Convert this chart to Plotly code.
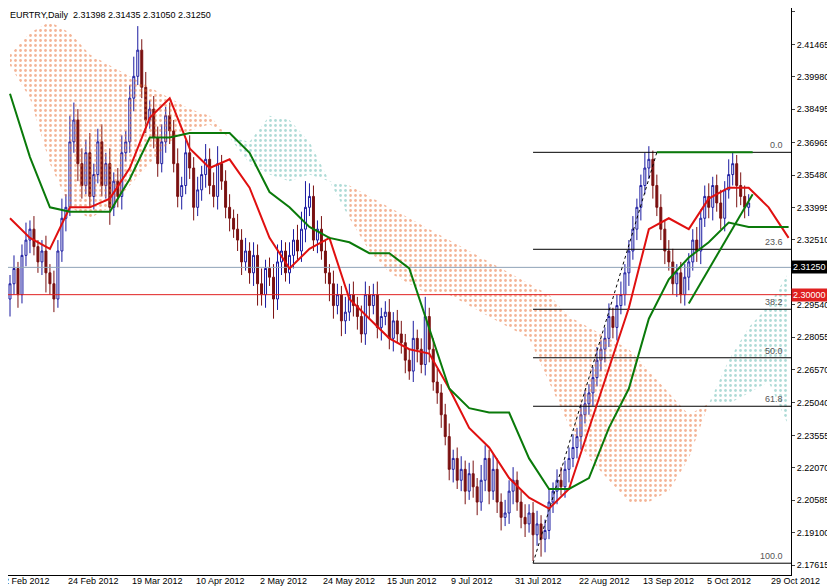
import plotly.graph_objects as go

# 日线收盘价 (2 Feb 2012 起, 196 根)
CLOSES = [
    2.305, 2.312, 2.300, 2.318, 2.325, 2.330, 2.322, 2.315, 2.320, 2.310,
    2.305, 2.298, 2.320, 2.335, 2.340, 2.370, 2.380, 2.360, 2.350, 2.365,
    2.345, 2.355, 2.370, 2.350, 2.360, 2.340, 2.352, 2.345, 2.365, 2.370,
    2.390, 2.400, 2.412, 2.395, 2.380, 2.385, 2.372, 2.360, 2.370, 2.382,
    2.375, 2.360, 2.345, 2.350, 2.365, 2.358, 2.340, 2.348, 2.355, 2.362,
    2.350, 2.345, 2.360, 2.352, 2.340, 2.335, 2.330, 2.325, 2.315, 2.320,
    2.310, 2.318, 2.305, 2.300, 2.312, 2.308, 2.298, 2.315, 2.320, 2.310,
    2.318, 2.325, 2.320, 2.330, 2.340, 2.345, 2.325, 2.330, 2.320, 2.310,
    2.305, 2.295, 2.300, 2.288, 2.292, 2.300, 2.295, 2.290, 2.282, 2.300,
    2.295, 2.300, 2.285, 2.290, 2.292, 2.280, 2.288, 2.282, 2.278, 2.270,
    2.265, 2.280, 2.275, 2.268, 2.290, 2.275, 2.260, 2.255, 2.245, 2.235,
    2.220, 2.225, 2.215, 2.220, 2.210, 2.218, 2.212, 2.205, 2.215, 2.225,
    2.210, 2.220, 2.205, 2.198, 2.200, 2.210, 2.215, 2.205, 2.198, 2.195,
    2.200, 2.190, 2.195, 2.188, 2.192, 2.205, 2.210, 2.215, 2.212, 2.220,
    2.225, 2.230, 2.235, 2.245, 2.250, 2.255, 2.262, 2.270, 2.275, 2.280,
    2.290, 2.285, 2.295, 2.300, 2.310, 2.320, 2.330, 2.340, 2.350, 2.358,
    2.362, 2.350, 2.340, 2.330, 2.320, 2.315, 2.305, 2.310, 2.300, 2.308,
    2.315, 2.325, 2.320, 2.335, 2.345, 2.340, 2.350, 2.342, 2.335, 2.348,
    2.355, 2.360, 2.350, 2.345, 2.340, 2.342, 2.335, 2.332, 2.328, 2.325,
    2.318, 2.322, 2.330, 2.320, 2.315, 2.3125,
]
FIRST_OPEN = 2.298
# 上下影线长度 (单位 0.001)
HI_EXT = [
    4, 6, 3, 5, 8, 4, 6, 3, 5, 7, 4, 6, 5, 9, 6, 12, 8, 5, 7, 6,
    9, 5, 6, 8, 5, 7, 4, 6, 8, 5, 6, 9, 11, 5, 7, 4, 6, 5, 8, 4,
    6, 5, 7, 4, 6, 8, 5, 6, 4, 7, 5, 6, 8, 4, 5, 6, 4, 7, 5, 6,
    4, 6, 5, 7, 4, 5, 6, 8, 5, 4, 6, 5, 7, 8, 12, 6, 5, 4, 6, 5,
    4, 6, 5, 4, 7, 5, 6, 4, 5, 6, 4, 5, 6, 4, 5, 6, 4, 5, 6, 4,
    5, 8, 4, 5, 9, 4, 5, 6, 4, 5, 6, 4, 5, 6, 4, 5, 6, 4, 7, 6,
    4, 7, 5, 4, 6, 5, 6, 4, 5, 6, 4, 5, 6, 4, 5, 6, 4, 5, 6, 4,
    5, 6, 4, 5, 6, 4, 5, 6, 4, 5, 6, 4, 5, 6, 4, 5, 6, 4, 5, 7,
    6, 4, 5, 6, 4, 5, 6, 4, 5, 6, 4, 5, 6, 4, 5, 6, 4, 5, 6, 4,
    7, 5, 4, 6, 5, 4,
]
LO_EXT = [
    8, 5, 6, 4, 5, 6, 4, 5, 6, 9, 5, 6, 4, 5, 6, 4, 5, 8, 6, 4,
    5, 6, 4, 5, 6, 8, 4, 5, 6, 4, 5, 6, 4, 5, 6, 4, 5, 6, 4, 5,
    6, 4, 5, 6, 4, 5, 6, 4, 5, 6, 4, 5, 6, 4, 5, 6, 4, 5, 6, 4,
    5, 6, 10, 5, 6, 4, 9, 5, 6, 4, 5, 6, 4, 5, 6, 4, 5, 6, 4, 5,
    8, 6, 4, 7, 6, 4, 5, 6, 4, 5, 6, 4, 5, 6, 4, 5, 6, 4, 5, 6,
    4, 5, 6, 4, 5, 6, 4, 5, 6, 4, 5, 6, 4, 5, 6, 4, 5, 6, 4, 5,
    6, 4, 5, 6, 4, 5, 6, 4, 5, 6, 4, 12, 5, 8, 6, 4, 5, 6, 4, 5,
    6, 4, 5, 6, 4, 5, 6, 4, 5, 6, 4, 5, 6, 4, 5, 6, 4, 5, 6, 4,
    5, 6, 4, 5, 6, 4, 5, 6, 4, 5, 6, 4, 5, 6, 4, 5, 6, 4, 5, 6,
    4, 5, 10, 4, 5, 4,
]

# 指标线 (每 5 根取一点: 第 0,5,...,195 根)
LINE_X = list(range(0, 196, 5))
TENKAN = [2.335, 2.326, 2.321, 2.340, 2.340, 2.344, 2.358, 2.381, 2.390, 2.367,
          2.358, 2.362, 2.349, 2.326, 2.312, 2.321, 2.326, 2.298, 2.289, 2.280,
          2.275, 2.273, 2.257, 2.239, 2.230, 2.216, 2.207, 2.202, 2.211, 2.239,
          2.266, 2.294, 2.330, 2.335, 2.330, 2.344, 2.349, 2.349, 2.340, 2.326]
KIJUN = [2.392, 2.363, 2.340, 2.338, 2.338, 2.338, 2.353, 2.372, 2.372, 2.374,
         2.374, 2.374, 2.365, 2.347, 2.340, 2.331, 2.326, 2.324, 2.319, 2.319,
         2.312, 2.285, 2.257, 2.248, 2.246, 2.246, 2.225, 2.211, 2.211, 2.216,
         2.239, 2.257, 2.289, 2.307, 2.317, 2.324, 2.333, 2.331, 2.331, 2.331]
SPAN_A = [2.405, 2.390, 2.360, 2.340, 2.335, 2.340, 2.350, 2.360, 2.370, 2.375,
          2.378, 2.372, 2.370, 2.382, 2.380, 2.370, 2.352, 2.335, 2.320, 2.310,
          2.305, 2.300, 2.300, 2.295, 2.290, 2.285, 2.280, 2.260, 2.240, 2.225,
          2.215, 2.205, 2.205, 2.210, 2.225, 2.250, 2.270, 2.285, 2.295, 2.310]
SPAN_B = [2.410, 2.420, 2.425, 2.420, 2.410, 2.405, 2.400, 2.395, 2.390, 2.385,
          2.382, 2.372, 2.360, 2.355, 2.352, 2.355, 2.352, 2.350, 2.345, 2.340,
          2.335, 2.330, 2.325, 2.320, 2.315, 2.310, 2.305, 2.300, 2.290, 2.285,
          2.280, 2.275, 2.265, 2.255, 2.245, 2.250, 2.250, 2.255, 2.260, 2.240]

FIB_HIGH, FIB_LOW = 2.3652, 2.1770
FIB_LEVELS = [0.0, 23.6, 38.2, 50.0, 61.8, 100.0]
FIB_START, FIB_END = 131, 162   # 斐波那契起点/高点所在K线

Y_TICKS = [2.42950, 2.41465, 2.39980, 2.38495, 2.36965, 2.35480, 2.33995, 2.32510,
           2.29540, 2.28055, 2.26570, 2.25040, 2.23555, 2.22070, 2.20585, 2.19100, 2.17615]
DATE_LABELS = ["2 Feb 2012", "24 Feb 2012", "19 Mar 2012", "10 Apr 2012", "2 May 2012",
               "24 May 2012", "15 Jun 2012", "9 Jul 2012", "31 Jul 2012", "22 Aug 2012",
               "13 Sep 2012", "5 Oct 2012", "29 Oct 2012"]
DATE_BARS = [0, 16, 32, 48, 64, 80, 96, 112, 128, 144, 160, 176, 192]

LAST_PRICE = 2.31250
LEVEL_RED = 2.30000
TREND_X = [170, 186]
TREND_Y = [2.296, 2.346]

FONT = "Liberation Sans"

xs = list(range(len(CLOSES)))
opens = [FIRST_OPEN] + CLOSES[:-1]
highs = [max(o, c) + h / 1000 for o, c, h in zip(opens, CLOSES, HI_EXT)]
lows = [min(o, c) - l / 1000 for o, c, l in zip(opens, CLOSES, LO_EXT)]

fig = go.Figure()

# 云层: 按上下关系分段着色
segs = []
cur = [0]
for i in range(1, len(LINE_X)):
    if (SPAN_A[i] >= SPAN_B[i]) != (SPAN_A[cur[0]] >= SPAN_B[cur[0]]):
        cur.append(i)
        segs.append(cur)
        cur = [i]
    else:
        cur.append(i)
segs.append(cur)
for seg in segs:
    mid = seg[len(seg) // 2]
    bull = SPAN_A[mid] >= SPAN_B[mid]
    col = "#5fb8ad" if bull else "#e8692e"
    sx = [LINE_X[i] for i in seg]
    fig.add_trace(go.Scatter(x=sx, y=[SPAN_B[i] for i in seg], mode="lines",
                             line=dict(width=0), hoverinfo="skip", showlegend=False))
    fig.add_trace(go.Scatter(x=sx, y=[SPAN_A[i] for i in seg], mode="lines",
                             line=dict(width=0), fill="tonexty", fillcolor="rgba(0,0,0,0)",
                             fillpattern=dict(shape=".", fgcolor=col, bgcolor="rgba(0,0,0,0)",
                                              size=5, solidity=0.25),
                             hoverinfo="skip", showlegend=False))

# 水平线
for lvl, col in [(LAST_PRICE, "#8fa3b8"), (LEVEL_RED, "#e02020")]:
    fig.add_trace(go.Scatter(x=[-1, 200], y=[lvl, lvl], mode="lines",
                             line=dict(color=col, width=1), hoverinfo="skip", showlegend=False))

# 斐波那契
for lv in FIB_LEVELS:
    p = FIB_HIGH - (FIB_HIGH - FIB_LOW) * lv / 100
    fig.add_trace(go.Scatter(x=[FIB_START, 200], y=[p, p], mode="lines",
                             line=dict(color="black", width=1), hoverinfo="skip", showlegend=False))
    fig.add_annotation(x=194, y=p, text=f"{lv:.1f}", showarrow=False, xanchor="right",
                       yanchor="bottom", font=dict(size=9, color="#555555"))
fig.add_trace(go.Scatter(x=[FIB_START, FIB_END], y=[FIB_LOW, FIB_HIGH], mode="lines",
                         line=dict(color="black", width=1, dash="dot"), hoverinfo="skip",
                         showlegend=False))

# K线
fig.add_trace(go.Candlestick(
    x=xs, open=opens, high=highs, low=lows, close=CLOSES,
    increasing=dict(line=dict(color="#1a1aa0", width=1), fillcolor="white"),
    decreasing=dict(line=dict(color="#7a1010", width=1), fillcolor="#7a1010"),
    whiskerwidth=0, showlegend=False))

fig.add_trace(go.Scatter(x=LINE_X, y=TENKAN, mode="lines", line=dict(color="#e01010", width=2),
                         showlegend=False))
fig.add_trace(go.Scatter(x=LINE_X, y=KIJUN, mode="lines", line=dict(color="#0a7a0a", width=2),
                         showlegend=False))
# 趋势线与顶部水平线
fig.add_trace(go.Scatter(x=TREND_X, y=TREND_Y, mode="lines",
                         line=dict(color="#0a7a0a", width=2), showlegend=False))
fig.add_trace(go.Scatter(x=[FIB_END, 186], y=[FIB_HIGH, FIB_HIGH], mode="lines",
                         line=dict(color="#0a7a0a", width=2), showlegend=False))

for i, lab in zip(DATE_BARS, DATE_LABELS):
    fig.add_annotation(x=max(i - 2, -0.4), y=0, xref="x", yref="paper", text=lab,
                       showarrow=False, xanchor="left", yanchor="top", yshift=1,
                       xshift=-6 if i == 0 else 0,
                       font=dict(size=9, color="black", family=FONT))

for lvl, bg in [(LAST_PRICE, "black"), (LEVEL_RED, "#e02020")]:
    fig.add_annotation(x=1, xref="paper", y=lvl, text=f"{lvl:.5f}", showarrow=False,
                       xanchor="left", bgcolor=bg, font=dict(size=9, color="white", family=FONT),
                       borderpad=1)

fig.add_annotation(x=0, y=1, xref="paper", yref="paper", xanchor="left", yanchor="top",
                   text="EURTRY,Daily  2.31398 2.31435 2.31050 2.31250", showarrow=False,
                   font=dict(size=9, color="black", family=FONT))

fig.update_layout(
    width=835, height=586, margin=dict(l=0, r=52, t=0, b=19),
    paper_bgcolor="white", plot_bgcolor="white",
    font=dict(family=FONT, size=9, color="black"),
    xaxis=dict(range=[-0.5, 195.6], showgrid=False, showticklabels=False, zeroline=False,
               rangeslider=dict(visible=False), showline=True, linecolor="black"),
    yaxis=dict(range=[2.1716, 2.4313], side="right", tickvals=Y_TICKS,
               ticktext=[f"{v:.5f}" for v in Y_TICKS], showgrid=False, zeroline=False,
               showline=True, linecolor="black", ticks="outside", ticklen=3),
)

fig.write_html("out.html")
